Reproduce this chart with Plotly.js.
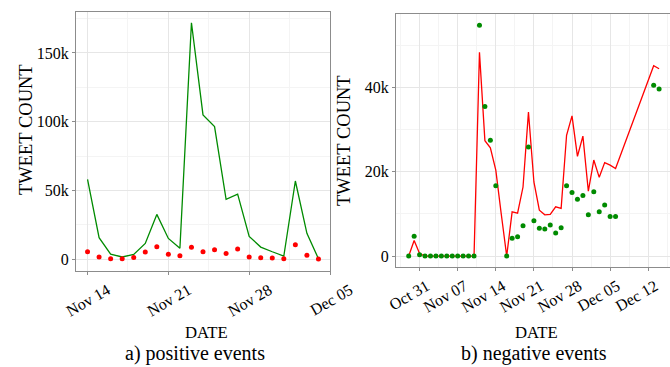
<!DOCTYPE html>
<html>
<head>
<meta charset="utf-8">
<script src="https://cdn.plot.ly/plotly-3.0.1.min.js"></script>
<style>html,body{margin:0;padding:0;background:#fff}#chart{width:670px;height:367px}</style>
</head>
<body>
<div id="chart"></div>
<script>
// ---- data: positive events (left) ----
const posDates = ['2016-11-14','2016-11-15','2016-11-16','2016-11-17','2016-11-18','2016-11-19','2016-11-20',
  '2016-11-21','2016-11-22','2016-11-23','2016-11-24','2016-11-25','2016-11-26','2016-11-27',
  '2016-11-28','2016-11-29','2016-11-30','2016-12-01','2016-12-02','2016-12-03','2016-12-04'];
const posLine = [58000,15500,3600,1500,3400,11400,32500,15000,7800,172000,104900,96400,43400,47300,
  16500,8700,5300,2200,56800,18700,200];
const posDots = [5300,1500,200,200,1200,5100,9000,3400,2400,8500,5300,6800,4100,7300,
  1500,1000,700,200,10400,2700,0];

// ---- data: negative events (right) ----
const negDates = ['2016-10-29','2016-10-30','2016-10-31','2016-11-01','2016-11-02','2016-11-03','2016-11-04',
  '2016-11-05','2016-11-06','2016-11-07','2016-11-08','2016-11-09','2016-11-10','2016-11-11',
  '2016-11-12','2016-11-13','2016-11-14','2016-11-15','2016-11-16','2016-11-17','2016-11-18',
  '2016-11-19','2016-11-20','2016-11-21','2016-11-22','2016-11-23','2016-11-24','2016-11-25',
  '2016-11-26','2016-11-27','2016-11-28','2016-11-29','2016-11-30','2016-12-01','2016-12-02',
  '2016-12-03','2016-12-04','2016-12-05','2016-12-06','2016-12-13','2016-12-14'];
const negLine = [0,3700,600,0,0,0,0,0,0,0,0,0,0,48400,27400,25700,20400,10000,0,10500,10200,
  16400,34200,17600,10900,9800,9900,11700,11300,28700,33300,23700,28500,15400,22800,
  18700,22200,21600,20800,45200,44500];
const negDots = [0,4700,300,0,0,0,0,0,0,0,0,0,0,54800,35500,27500,16700,null,0,4200,4600,
  7200,25900,8400,6600,6400,7400,5500,6700,16700,15100,13500,14400,9800,15300,
  10500,12100,9400,9400,40600,39700];

// ---- ticks ----
const posYTicks = [0,50000,100000,150000];
const posYLabels = ['0','50k','100k','150k'];
const negYTicks = [0,20000,40000];
const negYLabels = ['0','20k','40k'];
const posXTicks = ['2016-11-14','2016-11-21','2016-11-28','2016-12-05'];
const posXLabels = ['Nov 14','Nov 21','Nov 28','Dec 05'];
const negXTicks = ['2016-10-31','2016-11-07','2016-11-14','2016-11-21','2016-11-28','2016-12-05','2016-12-12'];
const negXLabels = ['Oct 31','Nov 07','Nov 14','Nov 21','Nov 28','Dec 05','Dec 12'];

const GREEN = '#008B00', RED = '#FF0000';
const FONT = 'Liberation Serif';
const W = 670, H = 367;
const px = v => v / W, py = v => 1 - v / H;
const DAY = 86400000;

const traces = [
  {x: posDates, y: posLine, type: 'scatter', mode: 'lines', line: {color: GREEN, width: 1.3}, xaxis: 'x', yaxis: 'y', hoverinfo: 'skip'},
  {x: posDates, y: posDots, type: 'scatter', mode: 'markers', marker: {color: RED, size: 5}, xaxis: 'x', yaxis: 'y', hoverinfo: 'skip'},
  {x: negDates, y: negLine, type: 'scatter', mode: 'lines', line: {color: RED, width: 1.3}, xaxis: 'x2', yaxis: 'y2', hoverinfo: 'skip'},
  {x: negDates, y: negDots, type: 'scatter', mode: 'markers', marker: {color: GREEN, size: 5}, xaxis: 'x2', yaxis: 'y2', hoverinfo: 'skip'}
];

function ax(extra) {
  return Object.assign({
    showline: true, mirror: true, linecolor: '#8C8C8C', linewidth: 1,
    ticks: 'outside', ticklen: 3, tickcolor: '#8C8C8C', tickwidth: 1,
    showgrid: true, gridcolor: '#E6E6E6', gridwidth: 1, zeroline: false,
    tickfont: {family: FONT, size: 16, color: '#000'}
  }, extra);
}

function ann(text, x, y, size, angle) {
  return {text: text, xref: 'paper', yref: 'paper', x: px(x), y: py(y), xanchor: 'center', yanchor: 'middle',
    textangle: angle || 0, showarrow: false, font: {family: FONT, size: size, color: '#000'}};
}

const layout = {
  width: W, height: H, margin: {l: 0, r: 0, t: 0, b: 0},
  paper_bgcolor: '#fff', plot_bgcolor: '#fff', showlegend: false,
  font: {family: FONT, color: '#000', size: 16},
  xaxis: ax({
    type: 'date', domain: [px(76), px(330)], anchor: 'y',
    range: ['2016-11-13 00:00', '2016-12-05 00:00'],
    tickmode: 'array', tickvals: posXTicks, ticktext: posXLabels, tickangle: -30,
    ticklabelshift: 20, ticklabelstandoff: 0, ticklabeloverflow: 'allow',
    minor: {showgrid: true, gridcolor: '#F4F4F4', tick0: '2016-11-14', dtick: 3.5 * DAY}
  }),
  yaxis: ax({
    domain: [py(271), py(12)], anchor: 'x',
    range: [-8700, 179800],
    tickmode: 'array', tickvals: posYTicks, ticktext: posYLabels,
    minor: {showgrid: true, gridcolor: '#F4F4F4', tick0: 0, dtick: 25000}
  }),
  xaxis2: ax({
    type: 'date', domain: [px(396), 1], anchor: 'y2',
    range: ['2016-10-26 16:00', '2016-12-16 00:00'],
    tickmode: 'array', tickvals: negXTicks, ticktext: negXLabels, tickangle: -30,
    ticklabelshift: 7, ticklabelstandoff: 0, ticklabeloverflow: 'allow',
    minor: {showgrid: true, gridcolor: '#F4F4F4', tick0: '2016-10-31', dtick: 3.5 * DAY}
  }),
  yaxis2: ax({
    domain: [py(267), py(14)], anchor: 'x2',
    range: [-2600, 57500],
    tickmode: 'array', tickvals: negYTicks, ticktext: negYLabels,
    minor: {showgrid: true, gridcolor: '#F4F4F4', tick0: 0, dtick: 10000}
  }),
  annotations: [
    ann('TWEET COUNT', 26, 130, 18.5, -90),
    ann('TWEET COUNT', 344, 141, 18.5, -90),
    ann('DATE', 206, 332, 16.7),
    ann('DATE', 536, 332, 16.7),
    ann('a) positive events', 195, 353, 20),
    ann('b) negative events', 534, 353, 20)
  ]
};

Plotly.newPlot('chart', traces, layout, {staticPlot: true, displayModeBar: false});
</script>
</body>
</html>
